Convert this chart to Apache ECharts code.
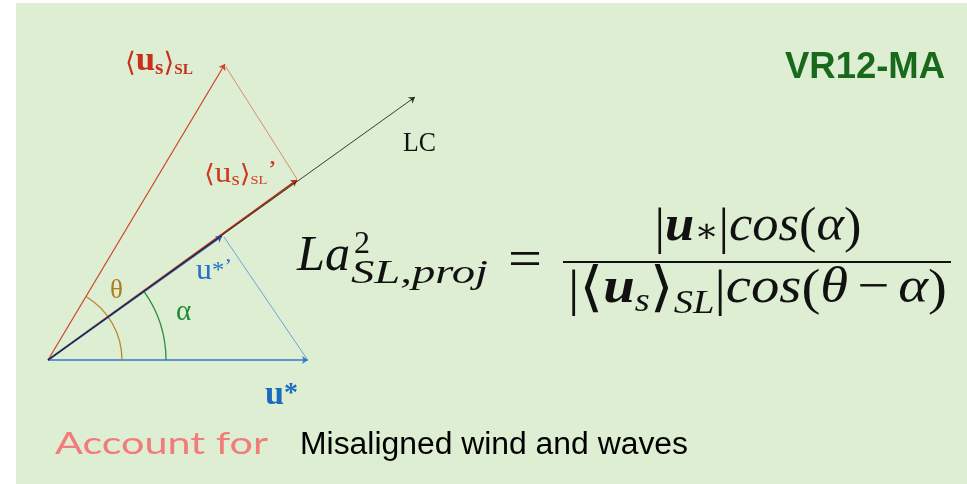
<!DOCTYPE html>
<html>
<head>
<meta charset="utf-8">
<script src="https://cdn.jsdelivr.net/npm/echarts@6/dist/echarts.min.js"></script>
<style>html,body{margin:0;padding:0;background:#fff}#chart{width:967px;height:484px}</style>
</head>
<body>
<div id="chart"></div>
<script>
// ---- Diagram data (origin of the vectors at [0,0], y upward, 1 unit = 1 px) ----
const lcLine          = [[0, 0], [367, 263]];   // LC direction
const usVector        = [[0, 0], [177, 296]];   // <u_s>_SL
const usProjVector    = [[0, 0], [249, 180]];   // <u_s>_SL' (projection on LC)
const uStarVector     = [[0, 0], [260, 0]];     // u*
const uStarProjVector = [[0, 0], [174, 124]];   // u*' (projection on LC)
const usDropLine      = [[178, 293], [249, 181]];
const uStarDropLine   = [[259, 1], [176, 123]];
const thetaArc        = [74, 59.1];   // radius, angle (deg)
const alphaArc        = [118, 35.6];  // radius, angle (deg)

const titleText = 'VR12-MA';
const accountText = 'Account for';
const noteText = 'Misaligned wind and waves';

const SERIF = '"Liberation Serif", "DejaVu Serif", serif';
const SANS = '"Liberation Sans", Arial, sans-serif';

const mctx = document.createElement('canvas').getContext('2d');
function fontOf(p) {
  return (p.italic ? 'italic ' : '') + (p.bold ? 'bold ' : '') + p.size + 'px ' + (p.family || SERIF);
}
// Lay out a run of text pieces; optional fit = target width in px (horizontal scale)
function textRun(pieces, x, baseline, align, color, fit) {
  const widths = pieces.map(p => { mctx.font = fontOf(p); return mctx.measureText(p.t).width + (p.gb || 0) + (p.ga || 0); });
  const total = widths.reduce((a, b) => a + b, 0);
  const s = fit ? fit / total : 1;
  const W = total * s;
  let cx = align === 'center' ? x - W / 2 : (align === 'right' ? x - W : x);
  const els = [];
  pieces.forEach((p, i) => {
    els.push({
      type: 'text', silent: true, z: 10,
      x: cx + (p.gb || 0) * s,
      y: baseline + (p.dy || 0) - 0.34 * p.size,
      scaleX: s,
      style: { text: p.t, font: fontOf(p), fill: p.color || color, align: 'left', verticalAlign: 'middle' }
    });
    cx += widths[i] * s;
  });
  return els;
}

const els = [];
els.push({ type: 'rect', z: -10, silent: true, shape: { x: 16, y: 3, width: 951, height: 481 }, style: { fill: '#ddeed2' } });

// Title
els.push(...textRun([{ t: titleText, size: 36, bold: true, family: SANS }], 945, 80, 'right', '#19691d', 160));

// Diagram labels
const RED = '#c8301c';
els.push(...textRun([
  { t: '\u27E8', size: 27 }, { t: 'u', size: 34, bold: true }, { t: 's', size: 21, bold: true, dy: 3 },
  { t: '\u27E9', size: 27 }, { t: 'SL', size: 15, bold: true, dy: 2 }
], 125, 73, 'left', RED, 68));
els.push(...textRun([
  { t: '\u27E8', size: 25 }, { t: 'u', size: 30 }, { t: 's', size: 19, dy: 2 },
  { t: '\u27E9', size: 25 }, { t: 'SL', size: 13, dy: 1 }, { t: '\u2019', size: 26, dy: -4 }
], 204, 184, 'left', '#cf3b22', 73));
els.push(...textRun([{ t: 'LC', size: 28 }], 403, 153, 'left', '#111', 33));
els.push(...textRun([{ t: 'u', size: 30 }, { t: '*', size: 23, dy: -2 }, { t: '\u2019', size: 22, dy: -6 }], 196, 281, 'left', '#2373c8', 36));
els.push(...textRun([{ t: '\u03B8', size: 27 }], 110, 300, 'left', '#b07a20'));
els.push(...textRun([{ t: '\u03B1', size: 29 }], 176, 322, 'left', '#1f8a3a'));
els.push(...textRun([{ t: 'u', size: 33, bold: true }, { t: '*', size: 27, bold: true, dy: -4 }], 265, 407, 'left', '#1a6bc0', 33));

// Formula
const K = '#111';
const F = 50, FS = 34;
els.push(...textRun([{ t: 'La', size: F, italic: true }], 297, 274, 'left', K, 53));
els.push(...textRun([{ t: '2', size: 32 }], 354, 255, 'left', K, 16));
els.push(...textRun([{ t: 'SL,proj', size: FS, italic: true }], 351, 286, 'left', K, 137));
els.push(...textRun([{ t: '=', size: 52 }], 508, 280, 'left', K, 34));
els.push({ type: 'line', silent: true, z: 10, shape: { x1: 563, y1: 262, x2: 951, y2: 262 }, style: { stroke: K, lineWidth: 2 } });
els.push(...textRun([
  { t: '|', size: F, dy: 3 }, { t: 'u', size: F, bold: true, italic: true }, { t: '\u2217', size: FS, dy: 1 },
  { t: '|', size: F, dy: 3 }, { t: 'cos', size: F, italic: true }, { t: '(', size: F, dy: 2 }, { t: '\u03B1', size: F, italic: true }, { t: ')', size: F, dy: 2 }
], 758, 244, 'center', K, 207));
els.push(...textRun([
  { t: '|', size: F, dy: 3 }, { t: '\u27E8', size: 54, dy: 3 }, { t: 'u', size: F, bold: true, italic: true }, { t: 's', size: FS, italic: true, dy: 8 },
  { t: '\u27E9', size: 54, dy: 3 }, { t: 'SL', size: FS, italic: true, dy: 10 }, { t: '|', size: F, dy: 3 },
  { t: 'cos', size: F, italic: true }, { t: '(', size: F, dy: 2 }, { t: '\u03B8', size: F, italic: true },
  { t: '\u2212', size: F, gb: 8, ga: 8 }, { t: '\u03B1', size: F, italic: true }, { t: ')', size: F, dy: 2 }
], 757.5, 306, 'center', K, 379));

// Bottom note
els.push(...textRun([{ t: accountText, size: 31, family: '"Lato", sans-serif' }], 55, 455, 'left', '#f27b7b', 213));
els.push(...textRun([{ t: noteText, size: 31, family: SANS }], 300, 456, 'left', '#000', 388));

function vec(coords, color, width, arrow, z, opacity) {
  return {
    type: 'lines', coordinateSystem: 'cartesian2d', z: z, silent: true,
    symbol: arrow ? ['none', 'arrow'] : ['none', 'none'], symbolSize: 6,
    lineStyle: { color: color, width: width, opacity: opacity == null ? 1 : opacity },
    data: [{ coords: coords }]
  };
}
function arcSeries(arc, color) {
  return {
    type: 'custom', coordinateSystem: 'cartesian2d', clip: false, silent: true, z: 3,
    data: [arc],
    renderItem: function (params, api) {
      const c = api.coord([0, 0]);
      const r = api.size([api.value(0), 0])[0];
      const a = api.value(1) * Math.PI / 180;
      return { type: 'arc', shape: { cx: c[0], cy: c[1], r: r, startAngle: -a, endAngle: 0, clockwise: true },
               style: { stroke: color, fill: null, lineWidth: 1.3 } };
    }
  };
}

const chart = echarts.init(document.getElementById('chart'), null, { renderer: 'canvas' });
chart.setOption({
  animation: false,
  backgroundColor: '#ffffff',
  grid: { left: 0, right: 0, top: 0, bottom: 0 },
  xAxis: { type: 'value', min: -48, max: 919, show: false },
  yAxis: { type: 'value', min: -124, max: 360, show: false },
  graphic: { elements: els },
  series: [
    vec(usDropLine, '#e08a6c', 1, false, 2),
    vec(uStarDropLine, '#6aa6e0', 1, false, 2),
    vec(usVector, '#d0402a', 1.2, true, 3),
    vec(uStarVector, '#2f7bd0', 1.5, true, 3),
    vec(usProjVector, '#b0301c', 1.6, true, 4),
    vec(uStarProjVector, '#2f5fb0', 1.6, true, 5),
    vec(lcLine, '#000000', 1, true, 6, 0.75),
    arcSeries(thetaArc, '#b8862c'),
    arcSeries(alphaArc, '#2a8c3c')
  ]
});
</script>
</body>
</html>
